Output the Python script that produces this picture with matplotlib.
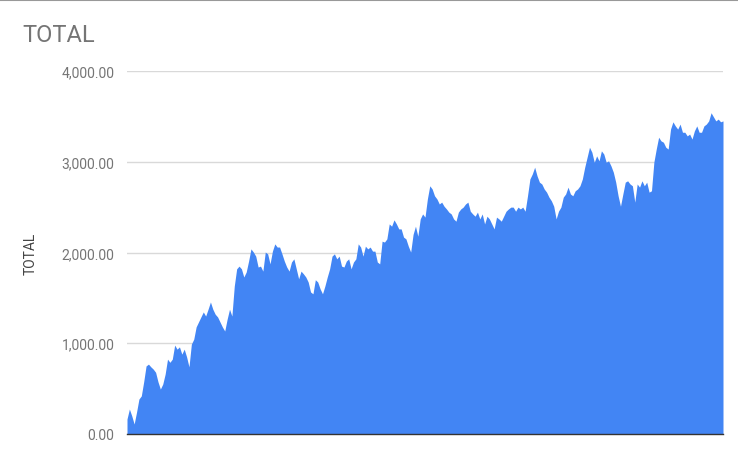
import matplotlib
matplotlib.use('Agg')
import matplotlib.pyplot as plt
from matplotlib.lines import Line2D
from matplotlib.ticker import FuncFormatter

plt.rcParams['font.family'] = ['Roboto', 'DejaVu Sans']

# Valores (de izquierda a derecha)
total = [
    165, 275, 200, 110, 240, 385, 420, 575, 750, 770, 740, 715, 680, 575, 495, 550,
    660, 825, 790, 825, 980, 935, 960, 880, 935, 850, 740, 990, 1045, 1180, 1235,
    1290, 1345, 1300, 1375, 1455, 1375, 1320, 1290, 1235, 1180, 1135, 1265, 1375,
    1300, 1630,
    1820, 1850, 1820, 1730, 1785, 1905,
    2040, 2005, 1960, 1840, 1850, 1795, 2005, 1985, 1875, 2015, 2095, 2060, 2060,
    1985, 1905, 1840, 1795, 1895, 1930, 1820, 1710, 1795, 1765, 1730, 1675, 1565,
    1545, 1700,
    1675, 1600, 1545, 1630, 1730, 1820, 1960, 1985, 1930, 1960, 1850, 1840, 1905,
    1930, 1820, 1895, 1930, 2095, 2060, 1960, 2070, 2040, 2060, 2015, 2015, 1895,
    1875, 2125, 2115, 2150, 2315, 2290, 2360, 2315, 2260, 2260, 2170, 2150, 2070,
    2005, 2200,
    2290, 2180, 2370, 2425, 2390, 2590, 2735, 2700, 2625, 2590, 2535, 2555, 2510,
    2480, 2445, 2425, 2370, 2345, 2445, 2480, 2500, 2535, 2555, 2455, 2425, 2400,
    2445, 2370, 2425, 2315, 2400, 2370, 2315, 2260, 2390, 2370, 2345, 2400, 2455,
    2480, 2500,
    2500, 2455, 2500, 2480, 2500, 2455, 2625, 2810, 2865, 2940, 2845, 2775, 2755,
    2700, 2665, 2610, 2570, 2510, 2370, 2455, 2500, 2610, 2645, 2720, 2645, 2625,
    2680, 2700, 2735, 2810, 2940, 3050, 3160, 3105, 2995, 3065, 3010, 3120, 3085,
    2995, 3010, 2955, 2885,
    2775, 2625, 2510, 2645, 2775, 2790, 2755, 2735, 2555, 2755, 2720, 2790, 2735,
    2775, 2665, 2680, 2995, 3140, 3270, 3230, 3215, 3160, 3140, 3360, 3440, 3395,
    3360, 3415, 3325, 3325, 3285, 3305, 3250, 3340, 3395, 3325, 3325, 3395, 3415,
    3450, 3540, 3495, 3450, 3470, 3440, 3450,
]
yticks = [0, 1000, 2000, 3000, 4000]

azul = '#4285F4'
gris_texto = '#757575'

fig = plt.figure(figsize=(7.38, 4.56), dpi=100)
ax = fig.add_axes([127 / 738, 1 - 435 / 456, (723 - 127) / 738, (435 - 72) / 456])

x = list(range(len(total)))
ax.fill_between(x, 0, total, color=azul, linewidth=0)

ax.set_xlim(0, len(total) - 1)
ax.set_ylim(0, 4000)
ax.set_yticks(yticks)
ax.yaxis.set_major_formatter(FuncFormatter(lambda v, p: f'{v:,.2f}'))
ax.set_xticks([])

ax.grid(axis='y', color='#d9d9d9', linewidth=1)
ax.set_axisbelow(True)
for s in ['top', 'right', 'left']:
    ax.spines[s].set_visible(False)
ax.spines['bottom'].set_color('#333333')
ax.spines['bottom'].set_linewidth(1)
ax.tick_params(axis='y', length=0, pad=9, labelsize=10, labelcolor=gris_texto)

ax.set_ylabel('TOTAL', fontsize=10, color='#444444', labelpad=17)

fig.text(22 / 738, 1 - 36 / 456, 'TOTAL', fontsize=17, color=gris_texto,
         ha='left', va='center')

# linea gris del borde superior
fig.add_artist(Line2D([0, 1], [0.998, 0.998], color='#999999', linewidth=1.5))

fig.savefig('out.png', dpi=100, facecolor='white')
